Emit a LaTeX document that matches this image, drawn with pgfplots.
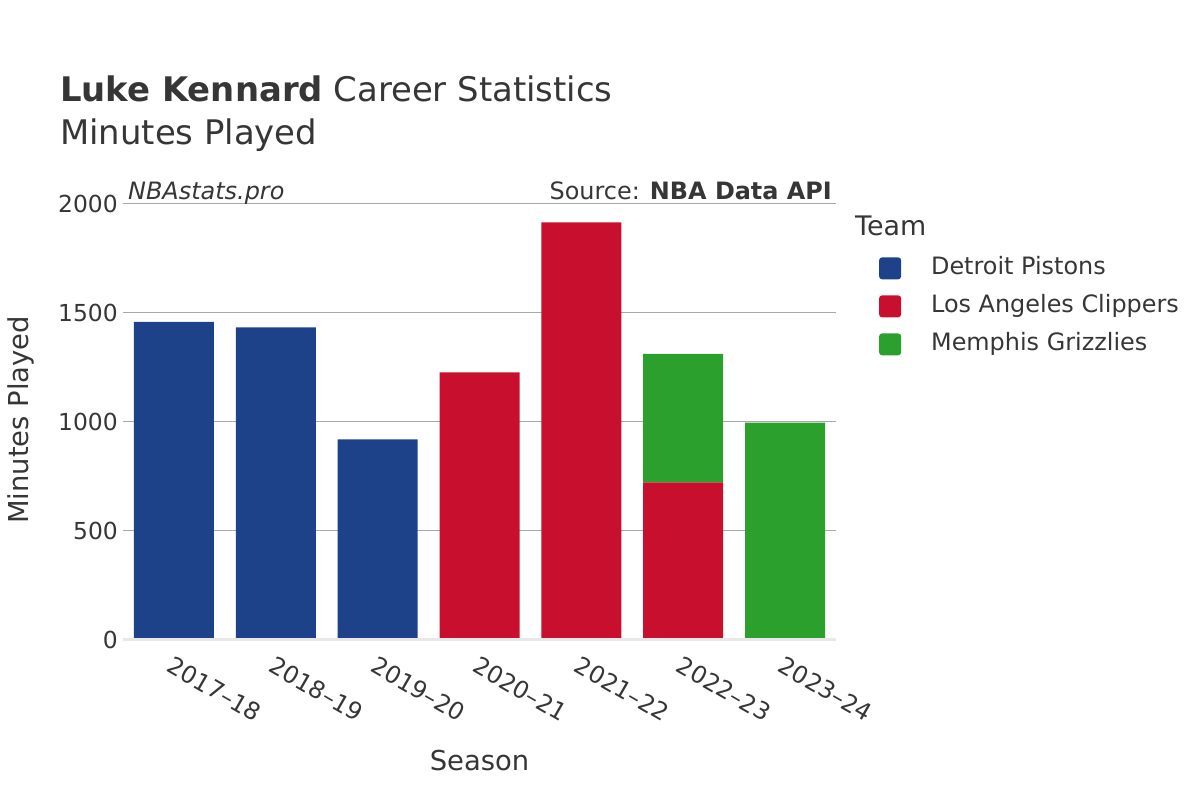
\documentclass[border=0pt]{standalone}
\usepackage{fontspec}
\setmainfont{DejaVu Sans}
\usepackage{pgfplots}
\usepackage{pgfplotstable}
\pgfplotsset{compat=1.18}

\definecolor{pistons}{HTML}{1D428A}
\definecolor{clippers}{HTML}{C8102E}
\definecolor{grizz}{HTML}{2CA02C}
\definecolor{txt}{HTML}{363636}
\definecolor{gridc}{HTML}{A8A8A8}
\definecolor{zeroc}{HTML}{E8E8E8}

% minutes per season and team
\pgfplotstableread{
x pistons clippers grizzlies
0 1459 0    0
1 1434 0    0
2 920  0    0
3 0    1228 0
4 0    1916 0
5 0    723  589
6 0    0    997
}\minutes

\begin{document}
\begin{tikzpicture}
\path[use as bounding box] (0,0) rectangle (1200bp,800bp);
\begin{axis}[
  at={(123bp,160bp)}, anchor=south west,
  scale only axis, width=713bp, height=436bp,
  xmin=-0.5, xmax=6.5, ymin=0, ymax=2000,
  ybar stacked, bar width=80bp,
  axis line style={draw=none},
  tick style={draw=none},
  ytick={0,500,1000,1500,2000},
  ymajorgrids, grid style={gridc, line width=1bp},
  xtick={0,...,6},
  xticklabels={2017--18,2018--19,2019--20,2020--21,2021--22,2022--23,2023--24},
  /pgf/number format/assume math mode=true,
  /pgf/number format/1000 sep={},
  yticklabel style={font=\fontsize{23.5}{28}\selectfont, text=txt, anchor=east, inner sep=0pt, xshift=-5bp},
  xticklabel style={font=\fontsize{24}{28}\selectfont, text=txt, rotate=-30, anchor=north west, inner sep=0pt, xshift=8bp, yshift=-13bp},
  legend style={at={(1.056,0.901)}, anchor=north west, draw=none, fill=none,
    font=\fontsize{24}{28}\selectfont, text=txt, column sep=30bp,
    nodes={inner sep=0pt, text height=18bp, text depth=6bp, inner ysep=7bp, anchor=west}},
  legend cell align=left,
  legend image code/.code={\fill[#1, draw=none, rounded corners=3bp] (0bp,-11bp) rectangle (22bp,11bp);},
  clip=false,
]
\draw[zeroc, line width=3bp] (axis cs:-0.5,0) -- (axis cs:6.5,0);
\addplot[fill=pistons, draw=none] table[x=x, y=pistons] {\minutes};
\addplot[fill=clippers, draw=none] table[x=x, y=clippers] {\minutes};
\addplot[fill=grizz, draw=none] table[x=x, y=grizzlies] {\minutes};
\legend{Detroit Pistons, Los Angeles Clippers, Memphis Grizzlies}
\end{axis}
\begin{scope}[every node/.style={text=txt, inner sep=0pt}]
\node[anchor=base west, font=\fontsize{34}{40}\selectfont] at (60bp,698bp) {\textbf{Luke Kennard} Career Statistics};
\node[anchor=base west, font=\fontsize{34}{40}\selectfont] at (60bp,655bp) {Minutes Played};
\node[anchor=base west, font=\fontsize{24}{28}\selectfont\itshape] at (128bp,600bp) {NBAstats.pro};
\node[anchor=base east, font=\fontsize{24}{28}\selectfont] at (832bp,600bp) {Source: \textbf{NBA Data API}};
\node[anchor=base, font=\fontsize{27.5}{32}\selectfont] at (479.5bp,30bp) {Season};
\node[anchor=base, rotate=90, font=\fontsize{27.5}{32}\selectfont] at (28bp,380bp) {Minutes Played};
\node[anchor=base west, font=\fontsize{27}{32}\selectfont] at (855bp,564bp) {Team};
\end{scope}
\end{tikzpicture}
\end{document}
